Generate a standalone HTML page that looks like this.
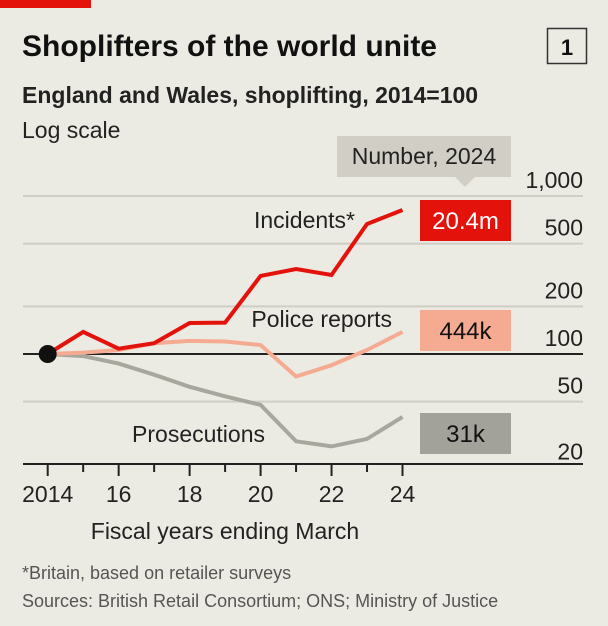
<!DOCTYPE html>
<html><head><meta charset="utf-8"><style>
html,body{margin:0;padding:0;background:#ecebe3;}
svg{display:block;font-family:"Liberation Sans Narrow","Liberation Sans",sans-serif;}
</style></head><body>
<svg id="chart" width="608" height="626" viewBox="0 0 608 626" xmlns="http://www.w3.org/2000/svg">
<rect x="0" y="0" width="608" height="626" fill="#ecebe3"/>
<rect x="0" y="0" width="91" height="8" fill="#e3120b"/>
<text x="22" y="56" font-size="30" font-weight="bold" fill="#111" font-family="Liberation Sans, sans-serif">Shoplifters of the world unite</text>
<rect x="547.5" y="28.5" width="39" height="35" fill="none" stroke="#333" stroke-width="1.5"/>
<text x="567" y="55" font-size="22" font-weight="bold" text-anchor="middle" fill="#111">1</text>
<text x="22" y="103" font-size="23" font-weight="bold" fill="#222">England and Wales, shoplifting, 2014=100</text>
<text x="22" y="138" font-size="23" fill="#222">Log scale</text>
<g id="grid"></g>
<g id="xaxis"></g>
<g id="series"></g>
<g id="labels"></g>
<text x="225" y="539" font-size="23" text-anchor="middle" fill="#222">Fiscal years ending March</text>
<text x="22" y="579" font-size="18" fill="#555">*Britain, based on retailer surveys</text>
<text x="22" y="607" font-size="18" fill="#555">Sources: British Retail Consortium; ONS; Ministry of Justice</text>
</svg>
<script>
const years = [2014,2015,2016,2017,2018,2019,2020,2021,2022,2023,2024];
const incidents = [100,138,108,117,157,158,312,345,316,665,815];
const police = [100,102,106,117,121,120,114,72,85,106,138];
const prosecutions = [100,97,87,74,62,54,47.6,28,26,29,40];
const yTicks = [1000,500,200,100,50,20];
const yTickLabels = ["1,000","500","200","100","50","20"];
const xTickLabels = ["2014","16","18","20","22","24"];
const endLabels = ["20.4m","444k","31k"];

const NS="http://www.w3.org/2000/svg";
function xs(yr){return 47.7+(yr-2014)*35.48;}
function ys(v){return 354-158*Math.log10(v/100);}
function mk(tag,attrs,parent){const e=document.createElementNS(NS,tag);for(const k in attrs)e.setAttribute(k,attrs[k]);parent.appendChild(e);return e;}
const grid=document.getElementById('grid');
yTicks.forEach((t,i)=>{
  if(t!==100 && t!==20){
    const l=mk('line',{x1:23,x2:583,y1:ys(t),y2:ys(t),stroke:'#cfcec6','stroke-width':2},grid);
    
    
  }
  const tx=mk('text',{x:583,y:ys(t)-(t===20?5:8),'font-size':23,'text-anchor':'end',fill:'#222'},grid);
  tx.textContent=yTickLabels[i];
  
  
});
const base=mk('line',{x1:23,x2:583,y1:ys(100),y2:ys(100),stroke:'#222','stroke-width':2},grid);


const xa=document.getElementById('xaxis');
const ax=mk('line',{x1:23,x2:583,y1:464,y2:464,stroke:'#222','stroke-width':2},xa);


years.forEach(y=>{
  const t=mk('line',{x1:xs(y),x2:xs(y),y1:464,y2:(y%2===0?476:472),stroke:'#222','stroke-width':2},xa);
  
  
});
xTickLabels.forEach((lab,i)=>{
  const yr=2014+i*2;
  const t=mk('text',{x:xs(yr),y:502,'font-size':23,'text-anchor':'middle',fill:'#222'},xa);
  t.textContent=lab;
  
  
});
const ser=document.getElementById('series');
function line(vals,color,name){
  const d=vals.map((v,i)=>(i?'L':'M')+xs(years[i]).toFixed(1)+','+ys(v).toFixed(1)).join(' ');
  const p=mk('path',{d:d,fill:'none',stroke:color,'stroke-width':4,'stroke-linejoin':'miter'},ser);
  
  
}
line(prosecutions,'#a8a79e','prosecutions-line');
line(police,'#f4ab92','police-reports-line');
line(incidents,'#e3120b','incidents-line');
const dot=mk('circle',{cx:xs(2014),cy:ys(100),r:9,fill:'#111'},ser);



const lab=document.getElementById('labels');
function txt(s,x,y,attrs,name){const t=mk('text',Object.assign({x:x,y:y,'font-size':23,fill:'#222'},attrs||{}),lab);t.textContent=s;return t;}
txt('Incidents*',355,228,{'text-anchor':'end'},'incidents-label');
txt('Police reports',392,327,{'text-anchor':'end'},'police-reports-label');
txt('Prosecutions',265,442,{'text-anchor':'end'},'prosecutions-label');
const nb=mk('rect',{x:337,y:136,width:174,height:41,fill:'#d0cec5'},lab);


const tri=mk('path',{d:'M455,177 L475,177 L465,187 Z',fill:'#d0cec5'},lab);


txt('Number, 2024',424,164,{'text-anchor':'middle'},'number-2024-label');
const boxes=[[200,'#e3120b','#fff'],[310,'#f4ab92','#111'],[413,'#a3a29a','#111']];
const bnames=['incidents','police-reports','prosecutions'];
boxes.forEach((b,i)=>{
  const r=mk('rect',{x:420,y:b[0],width:91,height:41,fill:b[1]},lab);
  
  
  txt(endLabels[i],465.5,b[0]+29,{'text-anchor':'middle',fill:b[2],'font-size':24},bnames[i]+'-value');
});
</script>
</body></html>
